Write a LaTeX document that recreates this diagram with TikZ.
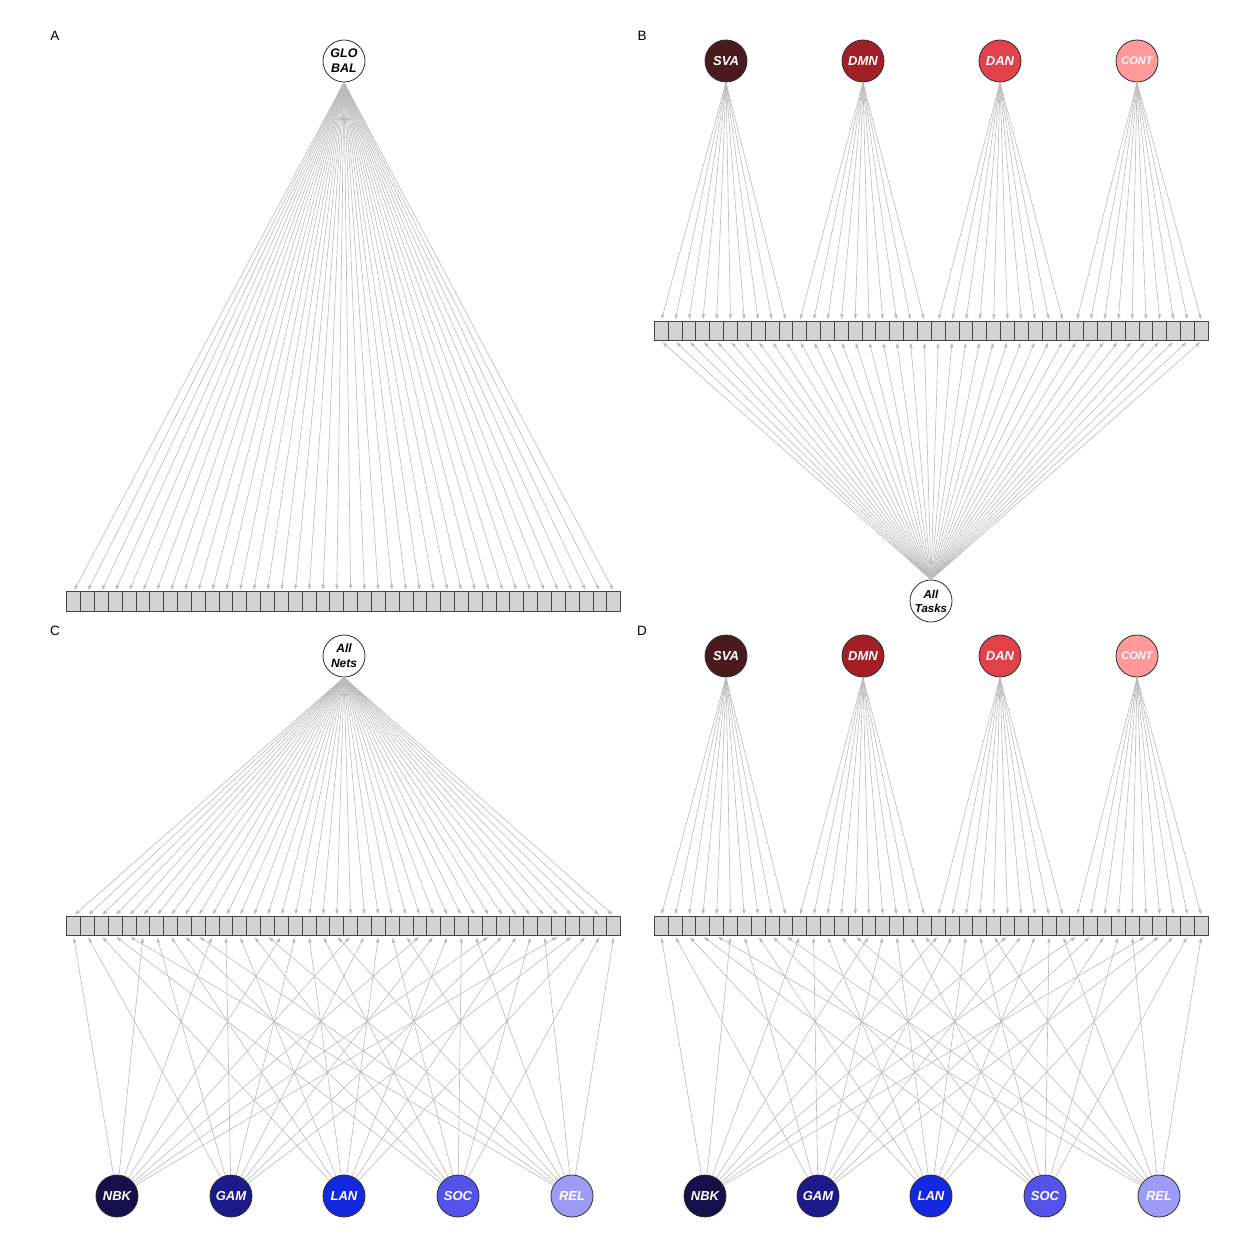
\documentclass[tikz,border=0pt]{standalone}
\usepackage{fontspec}
\setmainfont{Liberation Sans}
\usetikzlibrary{arrows.meta}

\definecolor{sva}{HTML}{4B1A1F}
\definecolor{dmn}{HTML}{A31F28}
\definecolor{dan}{HTML}{E2414A}
\definecolor{cont}{HTML}{FD9999}
\definecolor{nbk}{HTML}{170F4A}
\definecolor{gam}{HTML}{1C1A8A}
\definecolor{lan}{HTML}{1428E0}
\definecolor{soc}{HTML}{5353EC}
\definecolor{rel}{HTML}{9C9CF6}
\definecolor{facline}{HTML}{2E2E2E}
\definecolor{indline}{HTML}{454545}
\definecolor{indfill}{HTML}{D3D3D3}
\definecolor{loadgray}{HTML}{BBBBBB}

\begin{document}
\begin{tikzpicture}[
  x=1pt, y=-1pt,
  fac/.style  = {circle, draw=facline, line width=0.8pt, minimum size=42pt,
                 inner sep=0pt, align=center,
                 font=\fontsize{13}{14}\selectfont\bfseries\itshape},
  ind/.style  = {draw=indline, fill=indfill, line width=0.9pt,
                 minimum width=13.85pt, minimum height=19.5pt, inner sep=0pt},
  load/.style = {-{Triangle[length=5pt,width=3.2pt]}, draw=loadgray,
                 line width=0.6pt, shorten >=1.5pt},
  lbl/.style  = {font=\fontsize{13.5}{13.5}\selectfont}
]
  \useasboundingbox[fill=white] (0,0) rectangle (1252,1249);

  % panel A
  \node[lbl] (la) at (55,36) {A};
  \node[fac, fill=white, font=\fontsize{12.5}{15}\selectfont\bfseries\itshape]
    (glob) at (344,61) {GLO\\BAL};
  \foreach \i in {1,...,40} {
    \node[ind] (a\i) at ({66.7+13.85*(\i-0.5)},601.4) {};
    \draw[load] (glob.south) -- (a\i.north);
  }

  % panel B
  \node[lbl] (lb) at (642,36) {B};
  \foreach \i in {1,...,40}
    \node[ind] (b\i) at ({654.3+13.85*(\i-0.5)},331) {};
  \foreach \f/\t/\x [count=\k from 0] in
    {sva/SVA/726, dmn/DMN/863, dan/DAN/1000,
     cont/{\fontsize{11}{12}\selectfont CONT}/1137} {
    \node[fac, fill=\f, text=white] (b\f) at (\x,61) {\t};
    \foreach \j in {1,...,10} {
      \pgfmathtruncatemacro\b{10*\k+\j}
      \draw[load] (b\f.south) -- (b\b.north);
    }
  }
  \node[fac, fill=white, font=\fontsize{11.5}{14}\selectfont\bfseries\itshape]
    (tasks) at (931,601) {All\\Tasks};
  \foreach \i in {1,...,40}
    \draw[load] (tasks.north) -- (b\i.south);

  % panel C
  \node[lbl] (lc) at (55,631) {C};
  \node[fac, fill=white, font=\fontsize{12}{15}\selectfont\bfseries\itshape]
    (nets) at (344,656) {All\\Nets};
  \foreach \i in {1,...,40} {
    \node[ind] (c\i) at ({66.7+13.85*(\i-0.5)},926) {};
    \draw[load] (nets.south) -- (c\i.north);
  }
  \foreach \f/\t/\x [count=\k from 0] in
    {nbk/NBK/117, gam/GAM/231, lan/LAN/344, soc/SOC/458, rel/REL/572} {
    \node[fac, fill=\f, text=white] (c\f) at (\x,1196) {\t};
    \foreach \j in {0,...,7} {
      \pgfmathtruncatemacro\b{5*\j+\k+1}
      \draw[load] (c\f) -- (c\b.south);
    }
  }

  % panel D
  \node[lbl] (ld) at (642,631) {D};
  \foreach \i in {1,...,40}
    \node[ind] (d\i) at ({654.3+13.85*(\i-0.5)},926) {};
  \foreach \f/\t/\x [count=\k from 0] in
    {sva/SVA/726, dmn/DMN/863, dan/DAN/1000,
     cont/{\fontsize{11}{12}\selectfont CONT}/1137} {
    \node[fac, fill=\f, text=white] (d\f) at (\x,656) {\t};
    \foreach \j in {1,...,10} {
      \pgfmathtruncatemacro\b{10*\k+\j}
      \draw[load] (d\f.south) -- (d\b.north);
    }
  }
  \foreach \f/\t/\x [count=\k from 0] in
    {nbk/NBK/705, gam/GAM/818, lan/LAN/931, soc/SOC/1045, rel/REL/1159} {
    \node[fac, fill=\f, text=white] (d\f) at (\x,1196) {\t};
    \foreach \j in {0,...,7} {
      \pgfmathtruncatemacro\b{5*\j+\k+1}
      \draw[load] (d\f) -- (d\b.south);
    }
  }
\end{tikzpicture}
\end{document}
